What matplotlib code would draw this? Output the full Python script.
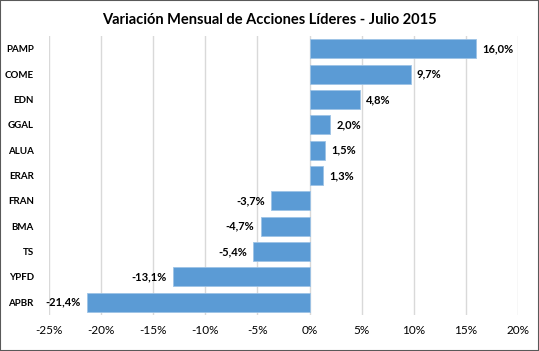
import matplotlib
matplotlib.use("Agg")
import matplotlib.pyplot as plt
from matplotlib.ticker import FuncFormatter

tickers = ["PAMP", "COME", "EDN", "GGAL", "ALUA", "ERAR", "FRAN", "BMA", "TS", "YPFD", "APBR"]
variacion = [16.0, 9.7, 4.8, 2.0, 1.5, 1.3, -3.7, -4.7, -5.4, -13.1, -21.4]

plt.rcParams["font.family"] = ["Lato", "DejaVu Sans"]

fig = plt.figure(figsize=(5.39, 3.51), dpi=100)
ax = fig.add_axes([0.0909, 0.1026, 0.870, 0.794])

y = list(range(len(tickers)))
ax.barh(y, variacion, height=0.75, color="#5B9BD5", edgecolor="#9DC3E6", linewidth=0.6, zorder=3)
ax.set_ylim(len(tickers) - 0.5, -0.5)
ax.set_xlim(-25, 20)
ax.set_xticks(range(-25, 21, 5))
ax.xaxis.set_major_formatter(FuncFormatter(lambda v, p: f"{v:.0f}%"))
ax.set_yticks(y)
ax.set_yticklabels(tickers, fontweight="bold", fontsize=7)
ax.tick_params(axis="x", labelsize=8.5, length=0, pad=7)
ax.tick_params(axis="y", length=0, pad=11)
ax.grid(axis="x", color="#D9D9D9", linewidth=1, zorder=0)
for s in ax.spines.values():
    s.set_visible(False)

for yi, v in zip(y, variacion):
    txt = f"{v:.1f}%".replace(".", ",")
    if v >= 0:
        ax.text(v + 0.6, yi, txt, va="center", ha="left", fontsize=8, fontweight="bold")
    else:
        ax.text(v - 0.6, yi, txt, va="center", ha="right", fontsize=8, fontweight="bold")

fig.suptitle("Variación Mensual de Acciones Líderes - Julio 2015", y=0.962,
             fontsize=10.5, fontweight="bold")
fig.patches.append(plt.Rectangle((0, 0), 1, 1, transform=fig.transFigure, fill=False,
                                 edgecolor="#595959", linewidth=1.5))
fig.savefig("out.png", dpi=100)
